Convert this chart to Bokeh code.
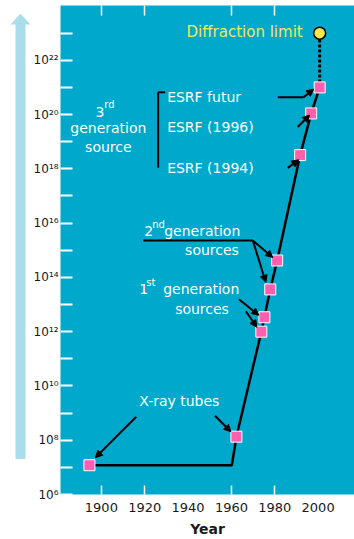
from bokeh.plotting import figure
from bokeh.layouts import row
from bokeh.models import (Range1d, FixedTicker, LinearAxis, Label, Arrow, NormalHead)
from bokeh.embed import file_html
from bokeh.resources import INLINE

# ---------------- data ----------------
source_years = [1894.5, 1962.3, 1973.8, 1975.2, 1977.9, 1981.1, 1991.7, 1996.8, 2000.7]
source_brilliance = [1.2e7, 1.35e8, 1.0e12, 3.4e12, 3.6e13, 4.2e14, 3.2e18, 1.1e20, 1.0e21]
plateau_end_year = 1960.2
diffraction_year = 2000.7
diffraction_brilliance = 1.0e23

x_tick_years = [1900, 1920, 1940, 1960, 1980, 2000]
x_tick_labels = ["1900", "1920", "1940", "1960", "1980", "2000"]
x_tick_marks = [1900, 1920, 1960, 1980]
y_label_exponents = [6, 8, 10, 12, 14, 16, 18, 20, 22]
y_tick_labels = ["10⁶", "10⁸", "10¹⁰", "10¹²", "10¹⁴", "10¹⁶", "10¹⁸", "10²⁰", "10²²"]
y_minor_exponents = [7, 9, 11, 13, 15, 17, 19, 21, 23]


# ---------------- helpers: reference pixel -> data coordinates -------------
def ax(px):
    return 1900 + (px - 100) / 2.175


def ay(py):
    return 10 ** (6 + (496 - py) / 27.25)


CYAN = "#00a9cc"
PINK = "#ff5fae"
FONT = "DejaVu Sans"

# ---------------- left decoration: light blue arrow ----------------
pa = figure(width=30, height=539, x_range=Range1d(0, 30), y_range=Range1d(539, 0),
            output_backend="svg", toolbar_location=None,
            x_axis_location=None, y_axis_location=None,
            min_border=0, outline_line_color=None,
            background_fill_color="white", border_fill_color="white")
pa.grid.visible = False
pa.patch([20, 30, 25, 25, 15, 15, 10], [9, 21, 21, 500, 500, 21, 21],
         fill_color="#a9ddec", line_color=None)

# ---------------- main chart ----------------
p = figure(width=324, height=539, y_axis_type="log",
           x_range=Range1d(ax(59), ax(354)), y_range=Range1d(ay(496), ay(5)),
           output_backend="svg", toolbar_location=None,
           min_border_left=29, min_border_right=0, min_border_top=5,
           min_border_bottom=43, background_fill_color=CYAN,
           border_fill_color="white", outline_line_color=None)
p.grid.visible = False

# y axis (log)
yax = p.yaxis[0]
y_major = [float(f"1e{e}") for e in y_label_exponents]
y_minor = [float(f"1e{e}") for e in y_minor_exponents]
yax.ticker = FixedTicker(ticks=y_major, minor_ticks=y_minor)
yax.major_label_overrides = {t: lab for t, lab in zip(y_major, y_tick_labels)}
yax.major_tick_in = 12
yax.major_tick_out = 0
yax.minor_tick_in = 12
yax.minor_tick_out = 0
yax.major_tick_line_color = "white"
yax.minor_tick_line_color = "white"
yax.major_tick_line_width = 2
yax.minor_tick_line_width = 2
yax.axis_line_color = None
yax.major_label_text_font = FONT
yax.major_label_text_font_size = "12px"
yax.major_label_text_color = "#1a1a1a"
yax.major_label_standoff = 2

# bottom axis: labels at every 20 years, tick marks where the picture shows them
xb = p.xaxis[0]
xb.ticker = FixedTicker(ticks=x_tick_years, minor_ticks=x_tick_marks)
xb.major_label_overrides = dict(zip(x_tick_years, x_tick_labels))
xb.major_tick_in = 0
xb.major_tick_out = 0
xb.minor_tick_in = 9
xb.minor_tick_out = 0
xb.minor_tick_line_color = "white"
xb.minor_tick_line_width = 1.5
xb.axis_line_color = None
xb.major_label_standoff = 8
xb.major_label_text_font = FONT
xb.major_label_text_font_size = "13px"
xb.major_label_text_color = "#1a1a1a"
xb.axis_label = "Year"
xb.axis_label_text_font = FONT
xb.axis_label_text_font_size = "14px"
xb.axis_label_text_font_style = "bold"
xb.axis_label_text_color = "#1a1a1a"
xb.axis_label_standoff = 6

# top tick marks
xt = LinearAxis(ticker=FixedTicker(ticks=[], minor_ticks=x_tick_marks),
                major_tick_in=0, major_tick_out=0,
                minor_tick_in=10, minor_tick_out=0, minor_tick_line_color="white",
                minor_tick_line_width=1.5, axis_line_color=None)
p.add_layout(xt, "above")

# ---------------- data marks ----------------
path_x = [source_years[0], plateau_end_year] + source_years[1:]
path_y = [source_brilliance[0], source_brilliance[0]] + source_brilliance[1:]
p.line(path_x, path_y, line_color="black", line_width=2.5)
p.line([source_years[-1], diffraction_year], [source_brilliance[-1], diffraction_brilliance],
       line_color="black", line_width=3, line_dash="3 2")
p.scatter(source_years, source_brilliance, marker="square", size=11,
          fill_color=PINK, line_color="white", line_width=1)
p.scatter([diffraction_year], [diffraction_brilliance], marker="circle", size=12,
          fill_color="#f5e84a", line_color="black", line_width=1.5)


# ---------------- annotations ----------------
def label(text, px, py, align="left", size="14px", color="white"):
    p.add_layout(Label(x=ax(px), y=ay(py), text=text, text_font=FONT,
                       text_font_size=size, text_color=color, text_align=align,
                       text_baseline="middle"))


def arrow(x0, y0, x1, y1, head=True):
    end = NormalHead(size=7, fill_color="black", line_color="black") if head else None
    p.add_layout(Arrow(x_start=ax(x0), y_start=ay(y0), x_end=ax(x1), y_end=ay(y1),
                       end=end, line_color="black", line_width=2))


label("Diffraction limit", 302, 32, align="right", color="#eeea55", size="15px")

label("3", 103, 112, align="right")
label("rd", 103, 104, size="10px")
label("generation", 107, 128, align="center")
label("source", 107, 147, align="center")
arrow(157, 92, 157, 168, head=False)
arrow(157, 92, 164, 92, head=False)
label("ESRF futur", 166, 97)
label("ESRF (1996)", 166, 127)
label("ESRF (1994)", 166, 168)
arrow(277, 97, 303, 97, head=False)
arrow(303, 97, 313, 89)
arrow(297, 127, 309, 115)
arrow(287, 168, 298, 160)

label("2", 143, 231)
label("nd", 151, 225, size="10px")
label("generation", 163, 231)
label("sources", 211, 250, align="center")
arrow(142, 241, 252, 241, head=False)
arrow(252, 241, 272, 258)
arrow(252, 241, 265, 283)

label("1", 138, 290)
label("st", 145, 283, size="10px")
label("generation", 162, 290)
label("sources", 201, 310, align="center")
arrow(238, 300, 258, 316)
arrow(245, 312, 256, 328)

label("X-ray tubes", 138, 402)
arrow(135, 418, 94, 459)
arrow(214, 417, 230, 433)

layout = row(pa, p, spacing=0)
open("out.html", "w").write(file_html(layout, INLINE))
